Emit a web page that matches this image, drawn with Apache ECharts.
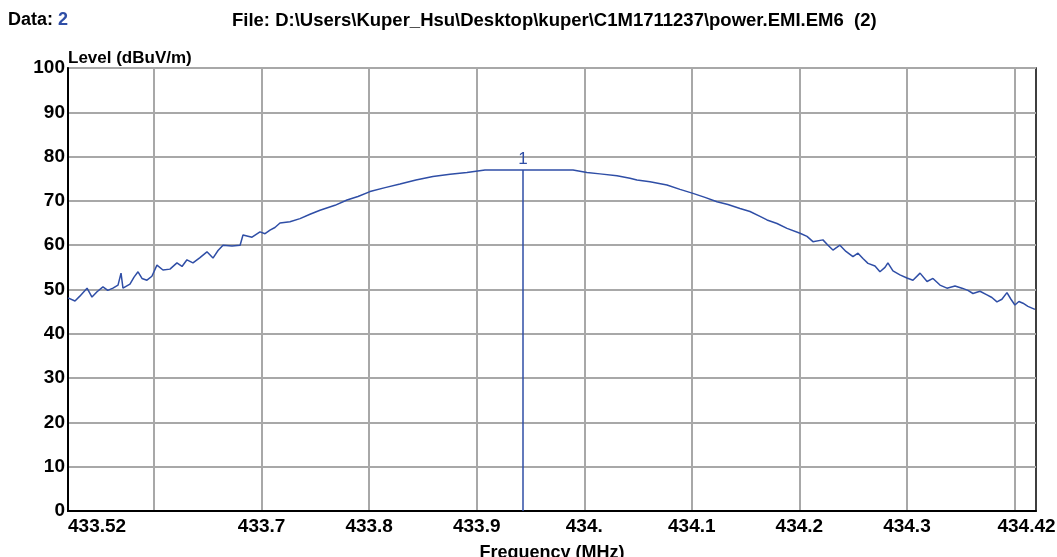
<!DOCTYPE html>
<html>
<head>
<meta charset="utf-8">
<script src="https://cdn.jsdelivr.net/npm/echarts@6/dist/echarts.min.js"></script>
<style>
html,body{margin:0;padding:0;background:#fff;}
#chart{width:1057px;height:557px;}
</style>
</head>
<body>
<div id="chart"></div>
<script>
const freqMHz = [433.520,433.5265,433.531,433.5377,433.5423,433.547,433.5525,433.557,433.5618,433.5665,433.5693,433.5711,433.5776,433.5814,433.5851,433.5888,433.5934,433.598,433.6027,433.6083,433.6148,433.6213,433.626,433.6306,433.6362,433.6427,433.6492,433.6548,433.6595,433.6641,433.6725,433.68,433.6827,433.6911,433.6985,433.7032,433.7078,433.7124,433.7171,433.7264,433.7357,433.745,433.7543,433.7682,433.7794,433.7896,433.8008,433.8148,433.8287,433.8435,433.8593,433.8752,433.8909,433.9077,433.9402,433.9681,433.9895,434.0025,434.0146,434.0304,434.0425,434.049,434.0611,434.0769,434.089,434.1011,434.1122,434.1234,434.1336,434.1448,434.1541,434.1634,434.1699,434.1792,434.1885,434.2006,434.2071,434.2126,434.2219,434.2266,434.2312,434.2377,434.2433,434.2498,434.2545,434.2591,434.2638,434.2703,434.2749,434.2796,434.2823,434.287,434.2935,434.3,434.3056,434.3122,434.3187,434.3242,434.3307,434.3372,434.3447,434.3512,434.3567,434.3614,434.3679,434.3744,434.379,434.3837,434.3883,434.393,434.3967,434.4004,434.4041,434.4079,434.4125,434.419];
const levelDbuVm = [48.1,47.4,48.5,50.3,48.3,49.5,50.6,49.8,50.3,51.0,53.7,50.3,51.2,52.8,54.0,52.5,52.1,53.0,55.5,54.4,54.6,56.0,55.2,56.7,56.0,57.2,58.5,57.1,58.8,60.0,59.8,60.0,62.3,61.8,63.0,62.6,63.4,64.0,65.0,65.3,66.0,67.0,67.9,69.0,70.2,71.0,72.1,73.0,73.8,74.7,75.5,76.0,76.4,77.0,77.0,77.0,77.0,76.4,76.1,75.7,75.1,74.7,74.3,73.6,72.6,71.7,70.8,69.8,69.2,68.3,67.6,66.5,65.7,64.9,63.8,62.7,62.0,60.8,61.2,60.0,58.9,60.0,58.6,57.4,58.2,57.0,55.9,55.3,54.0,55.0,56.0,54.2,53.3,52.6,52.1,53.7,51.8,52.5,51.0,50.3,50.8,50.3,49.8,49.1,49.6,48.8,48.2,47.2,47.8,49.3,47.8,46.5,47.3,46.9,46.2,45.5];
const xTickLabels = [433.52,433.7,433.8,433.9,434.0,434.1,434.2,434.3,434.42];
const xGridValues = [433.6,433.7,433.8,433.9,434.0,434.1,434.2,434.3,434.4];
const markerFreq = 433.943;
const markerLevel = 77.0;
const markerName = '1';
const dataNo = '2';
const fileName = 'File: D:\\Users\\Kuper_Hsu\\Desktop\\kuper\\C1M1711237\\power.EMI.EM6  (2)';

const FONT = "'Liberation Sans', Arial, sans-serif";
const BLUE = '#2f4ea6';
const chart = echarts.init(document.getElementById('chart'));
const seriesData = freqMHz.map((f, i) => [f, levelDbuVm[i]]);

chart.setOption({
  animation: false,
  backgroundColor: '#fff',
  title: [
    { text: '{k|Data: }{v|' + dataNo + '}', left: 3, top: 6,
      textStyle: { rich: {
        k: { fontFamily: FONT, fontWeight: 'bold', fontSize: 18, color: '#000' },
        v: { fontFamily: FONT, fontWeight: 'bold', fontSize: 18, color: BLUE } } } },
    { text: fileName, left: 227, top: 6,
      textStyle: { fontFamily: FONT, fontWeight: 'bold', fontSize: 18.5, color: '#000' } }
  ],
  grid: { left: 68, right: 21, top: 68, bottom: 46, outerBoundsMode: 'none', show: true, borderColor: '#000', borderWidth: 1.5, backgroundColor: '#fff' },
  xAxis: {
    type: 'value', min: 433.52, max: 434.42,
    name: 'Frequency (MHz)', nameLocation: 'middle', nameGap: 33, nameMoveOverlap: false,
    nameTextStyle: { fontFamily: FONT, fontWeight: 'bold', fontSize: 18, color: '#000' },
    axisLine: { show: true, lineStyle: { color: '#000', width: 2 } },
    axisTick: { show: false, customValues: xGridValues },
    splitLine: { show: true, lineStyle: { color: '#a8a8a8', width: 2 } },
    axisLabel: {
      customValues: xTickLabels,
      margin: 6,
      fontFamily: FONT, fontWeight: 'bold', fontSize: 19, color: '#000',
      alignMinLabel: 'left',
      alignMaxLabel: 'center',
      formatter: function (v) {
        if (Math.abs(v - 434.0) < 1e-6) return '434.';
        if (Math.abs(v - 434.42) < 1e-6) return '434.42\u2002\u2002';
        return String(+v.toFixed(2));
      }
    }
  },
  yAxis: {
    type: 'value', min: 0, max: 100, interval: 10,
    name: 'Level (dBuV/m)', nameLocation: 'end', nameGap: 10, nameMoveOverlap: false,
    nameTextStyle: { fontFamily: FONT, fontWeight: 'bold', fontSize: 17, color: '#000', align: 'left', verticalAlign: 'middle' },
    axisLine: { show: true, lineStyle: { color: '#000', width: 2 } },
    axisTick: { show: false },
    splitLine: { show: true, lineStyle: { color: '#a8a8a8', width: 2 } },
    axisLabel: { margin: 3, fontFamily: FONT, fontWeight: 'bold', fontSize: 19, color: '#000' }
  },
  series: [{
    type: 'line',
    data: seriesData,
    showSymbol: false,
    lineStyle: { color: BLUE, width: 1.5 },
    markLine: {
      silent: true, symbol: 'none',
      lineStyle: { color: BLUE, width: 1.5, type: 'solid' },
      label: { show: true, position: 'end', formatter: markerName, color: BLUE, fontFamily: FONT, fontSize: 17, distance: 2 },
      data: [[ { coord: [markerFreq, 0] }, { coord: [markerFreq, markerLevel] } ]]
    }
  }]
});
</script>
</body>
</html>
